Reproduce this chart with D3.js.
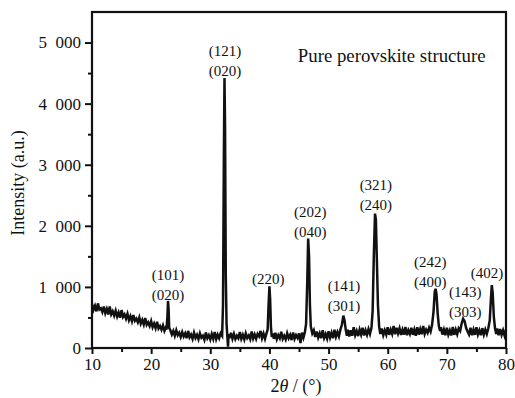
<!DOCTYPE html>
<html>
<head>
<meta charset="utf-8">
<script src="https://cdn.jsdelivr.net/npm/d3@7"></script>
<style>
  body { margin: 0; background: #fff; }
</style>
</head>
<body>
<svg id="xrd"></svg>
<script>
// XRD pattern: [2theta, intensity]
const xrd = [
  [10.00,720],[10.25,625],[10.50,690],[10.75,600],
  [11.00,730],[11.25,630],[11.50,650],[11.75,590],
  [12.00,680],[12.25,570],[12.50,640],[12.75,550],
  [13.00,680],[13.25,550],[13.50,600],[13.75,530],
  [14.00,610],[14.25,515],[14.50,580],[14.75,495],
  [15.00,620],[15.25,510],[15.50,550],[15.75,480],
  [16.00,560],[16.25,455],[16.50,520],[16.75,440],
  [17.00,540],[17.25,445],[17.50,480],[17.75,420],
  [18.00,500],[18.25,400],[18.50,460],[18.75,385],
  [19.00,490],[19.25,380],[19.50,420],[19.75,360],
  [20.00,440],[20.25,340],[20.50,400],[20.75,325],
  [21.00,430],[21.25,320],[21.50,360],[21.75,300],
  [22.00,370],[22.25,280],[22.50,340],[22.60,300],[22.75,520],[22.85,770],[22.95,640],[23.05,330],[23.25,290],[23.50,220],[23.75,280],
  [24.00,200],[24.25,290],[24.50,210],[24.75,250],
  [25.00,180],[25.25,260],[25.50,190],[25.75,240],
  [26.00,160],[26.25,280],[26.50,175],[26.75,220],
  [27.00,150],[27.25,250],[27.50,165],[27.75,215],
  [28.00,145],[28.25,240],[28.50,170],[28.75,200],
  [29.00,135],[29.25,255],[29.50,160],[29.75,210],
  [30.00,140],[30.25,230],[30.50,150],[30.75,260],
  [31.00,145],[31.25,220],[31.50,160],[31.75,240],
  [32.00,200],[32.15,700],[32.30,3200],[32.40,4420],[32.50,3600],[32.62,1200],[32.75,400],[32.90,160],[33.00,20],[33.10,230],[33.25,160],[33.50,250],[33.75,150],
  [34.00,230],[34.25,145],[34.50,200],[34.75,160],
  [35.00,260],[35.25,150],[35.50,215],[35.75,140],
  [36.00,240],[36.25,165],[36.50,205],[36.75,145],
  [37.00,270],[37.25,155],[37.50,220],[37.75,150],
  [38.00,230],[38.25,190],[38.50,280],[38.75,160],
  [39.00,235],[39.25,150],[39.50,240],[39.70,300],[39.85,700],[40.00,1010],[40.12,800],[40.25,350],[40.40,180],[40.60,240],[40.75,150],
  [41.00,250],[41.25,145],[41.50,210],[41.75,160],
  [42.00,265],[42.25,150],[42.50,200],[42.75,140],
  [43.00,240],[43.25,160],[43.50,215],[43.75,130],
  [44.00,255],[44.25,150],[44.50,210],[44.75,165],
  [45.00,240],[45.25,80],[45.50,250],[45.75,170],
  [46.00,260],[46.20,400],[46.40,1100],[46.55,1790],[46.70,1500],[46.85,700],[47.00,350],[47.25,240],[47.50,290],[47.75,180],
  [48.00,270],[48.25,170],[48.50,240],[48.75,160],
  [49.00,290],[49.25,165],[49.50,230],[49.75,155],
  [50.00,275],[50.25,170],[50.50,250],[50.75,160],
  [51.00,300],[51.25,185],[51.50,260],[51.75,190],
  [52.00,300],[52.25,380],[52.50,530],[52.70,450],[52.90,300],[53.10,200],[53.25,300],[53.50,190],[53.75,290],
  [54.00,200],[54.25,340],[54.50,210],[54.75,280],
  [55.00,195],[55.25,300],[55.50,220],[55.75,330],
  [56.00,205],[56.25,290],[56.50,215],[56.75,310],
  [57.00,230],[57.25,330],[57.45,600],[57.65,1500],[57.85,2200],[58.00,2100],[58.15,1500],[58.35,700],[58.55,350],[58.75,230],
  [59.00,320],[59.25,210],[59.50,290],[59.75,220],
  [60.00,340],[60.25,215],[60.50,300],[60.75,230],
  [61.00,360],[61.25,225],[61.50,330],[61.75,240],
  [62.00,320],[62.25,215],[62.50,300],[62.75,220],
  [63.00,345],[63.25,210],[63.50,290],[63.75,230],
  [64.00,330],[64.25,215],[64.50,300],[64.75,200],
  [65.00,340],[65.25,220],[65.50,310],[65.75,225],
  [66.00,360],[66.25,230],[66.50,300],[66.75,250],
  [67.00,330],[67.25,270],[67.50,380],[67.75,600],[67.95,920],[68.10,970],[68.25,880],[68.45,560],[68.65,360],[68.85,280],
  [69.00,340],[69.25,220],[69.50,300],[69.75,210],
  [70.00,330],[70.25,220],[70.50,290],[70.75,205],
  [71.00,345],[71.25,215],[71.50,300],[71.75,225],
  [72.00,320],[72.25,280],[72.50,400],[72.75,480],[73.00,440],[73.25,330],[73.50,270],[73.75,220],
  [74.00,330],[74.25,210],[74.50,300],[74.75,215],
  [75.00,340],[75.25,220],[75.50,290],[75.75,210],
  [76.00,325],[76.25,220],[76.50,300],[76.75,230],
  [77.00,320],[77.25,450],[77.45,800],[77.60,1030],[77.75,900],[77.95,500],[78.15,320],[78.35,230],[78.50,320],[78.75,210],
  [79.00,310],[79.25,215],[79.50,290],[79.75,205],
  [80.00,300]
];

// peak labels: 2theta of label centre, intensity of lower line baseline, lines
const peakLabels = [
  { x: 22.85, y: 790,  lines: ["(101)", "(020)"] },
  { x: 32.50, y: 4450, lines: ["(121)", "(020)"] },
  { x: 39.80, y: 1050, lines: ["(220)"] },
  { x: 46.90, y: 1815, lines: ["(202)", "(040)"] },
  { x: 52.60, y: 605,  lines: ["(141)", "(301)"] },
  { x: 58.00, y: 2260, lines: ["(321)", "(240)"] },
  { x: 67.20, y: 1000, lines: ["(242)", "(400)"] },
  { x: 73.10, y: 505,  lines: ["(143)", "(303)"] },
  { x: 76.80, y: 1145, lines: ["(402)"] }
];

const xMajor = [10, 20, 30, 40, 50, 60, 70, 80];
const xMinor = [15, 25, 35, 45, 55, 65, 75];
const yMajor = [0, 1000, 2000, 3000, 4000, 5000];
const yMinor = [500, 1500, 2500, 3500, 4500];

const serif = '"Liberation Serif", "Times New Roman", serif';
const ink = '#111';

const width = 515, height = 398;
const svg = d3.select('#xrd').attr('width', width).attr('height', height);

const x = d3.scaleLinear().domain([10, 80]).range([92, 506]);
const y = d3.scaleLinear().domain([0, 5500]).range([348, 12]);

const fmtY = d => d === 0 ? "0" : d3.format(",")(d).replace(",", "\u2002");

// minor ticks first
svg.append('g').attr('transform', `translate(0,${y(0)})`)
  .call(d3.axisBottom(x).tickValues(xMinor).tickSize(4).tickFormat(''))
  .call(g => g.select('.domain').remove());
svg.append('g').attr('transform', `translate(${x(10)},0)`)
  .call(d3.axisLeft(y).tickValues(yMinor).tickSize(4).tickFormat(''))
  .call(g => g.select('.domain').remove());

const xAxis = svg.append('g').attr('transform', `translate(0,${y(0)})`)
  .call(d3.axisBottom(x).tickValues(xMajor).tickSize(6).tickPadding(4).tickFormat(d3.format('d')));
xAxis.select('.domain').remove();

const yAxis = svg.append('g').attr('transform', `translate(${x(10)},0)`)
  .call(d3.axisLeft(y).tickValues(yMajor).tickSize(7).tickPadding(4).tickFormat(fmtY));
yAxis.select('.domain').remove();

svg.selectAll('.tick text')
  .attr('font-family', serif).style('font-family', serif)
  .style('font-size', '17px').attr('fill', ink);
svg.selectAll('.tick line').attr('stroke', ink).attr('stroke-width', 2);

// frame
svg.append('rect')
  .attr('x', x(10)).attr('y', y(5500))
  .attr('width', x(80) - x(10)).attr('height', y(0) - y(5500))
  .attr('fill', 'none').attr('stroke', ink).attr('stroke-width', 2.2);

// pattern
const line = d3.line().x(d => x(d[0])).y(d => y(d[1]));
svg.append('path')
  .datum(xrd)
  .attr('d', line)
  .attr('fill', 'none')
  .attr('stroke', ink)
  .attr('stroke-width', 2.5)
  .attr('stroke-linejoin', 'miter');

// peak labels
const lab = svg.append('g').selectAll('text')
  .data(peakLabels)
  .enter()
  .append('text')
  .attr('text-anchor', 'middle')
  .attr('fill', ink)
  .style('font-family', serif)
  .style('font-size', '15px');
lab.each(function(d) {
  const t = d3.select(this);
  const n = d.lines.length;
  d.lines.forEach((s, i) => {
    t.append('tspan')
      .attr('x', x(d.x))
      .attr('y', y(d.y) - (n - 1 - i) * 20)
      .text(s);
  });
});

svg.append('text')
  .attr('x', x(44.8)).attr('y', y(4680))
  .attr('fill', ink)
  .style('font-family', serif)
  .style('font-size', '18.8px')
  .text('Pure perovskite structure');

// axis titles
const xt = svg.append('text')
  .attr('x', x(44.5)).attr('y', 392)
  .attr('text-anchor', 'middle')
  .attr('fill', ink)
  .style('font-family', serif)
  .style('font-size', '18px');
xt.append('tspan').text('2');
xt.append('tspan').style('font-style', 'italic').text('θ');
xt.append('tspan').text(' / (°)');

svg.append('text')
  .attr('transform', `translate(24,${y(2700)}) rotate(-90)`)
  .attr('text-anchor', 'middle')
  .attr('fill', ink)
  .style('font-family', serif)
  .style('font-size', '18px')
  .text('Intensity (a.u.)');
</script>
</body>
</html>
